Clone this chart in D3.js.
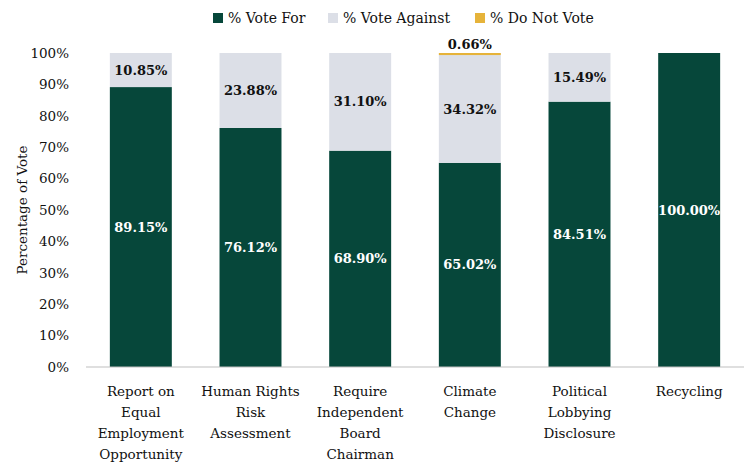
<!DOCTYPE html>
<html>
<head>
<meta charset="utf-8">
<script src="https://cdn.jsdelivr.net/npm/d3@7"></script>
<style>
  body { margin: 0; background: #fff; }
</style>
</head>
<body>
<div id="chart"></div>
<script>
// data
var categories = [
  ["Report on", "Equal", "Employment", "Opportunity"],
  ["Human Rights", "Risk", "Assessment"],
  ["Require", "Independent", "Board", "Chairman"],
  ["Climate", "Change"],
  ["Political", "Lobbying", "Disclosure"],
  ["Recycling"]
];
var voteFor = [89.15, 76.12, 68.90, 65.02, 84.51, 100.00];
var voteAgainst = [10.85, 23.88, 31.10, 34.32, 15.49, 0];
var doNotVote = [0, 0, 0, 0.66, 0, 0];
var seriesNames = ["% Vote For", "% Vote Against", "% Do Not Vote"];
var yTicks = [0, 10, 20, 30, 40, 50, 60, 70, 80, 90, 100];

var colors = ["#06473a", "#dcdfe7", "#e6b33a"];
var font = "'DejaVu Serif', serif";
var fontSize = "13.5px";
var labelSize = "13px";

var svgWidth = 746, svgHeight = 463;
var margin = { top: 53, right: 2, bottom: 96, left: 86 };
var width = svgWidth - margin.left - margin.right;
var height = svgHeight - margin.top - margin.bottom;

var svg = d3.select("#chart").append("svg")
  .attr("width", svgWidth)
  .attr("height", svgHeight)
  .attr("font-family", font)
  .attr("font-size", fontSize);

var chartGroup = svg.append("g")
  .attr("transform", "translate(" + margin.left + "," + margin.top + ")");

var xScale = d3.scaleBand()
  .domain(d3.range(categories.length))
  .range([0, width])
  .paddingInner(0.435)
  .paddingOuter(0.2175);

var yScale = d3.scaleLinear().domain([0, 100]).range([height, 0]);

// stack
var rows = voteFor.map(function(v, i) {
  return { i: i, f: v, a: voteAgainst[i], d: doNotVote[i] };
});
var stacked = d3.stack().keys(["f", "a", "d"])(rows);

stacked.forEach(function(layer, k) {
  chartGroup.append("g").selectAll("rect")
    .data(layer)
    .enter()
    .append("rect")
    .attr("x", function(d) { return xScale(d.data.i); })
    .attr("width", xScale.bandwidth())
    .attr("y", function(d) { return yScale(d[1]); })
    .attr("height", function(d) { return yScale(d[0]) - yScale(d[1]); })
    .attr("fill", colors[k]);
});

// y axis (labels only)
var yAxis = chartGroup.append("g")
  .call(d3.axisLeft(yScale).tickValues(yTicks).tickFormat(function(d) { return d + "%"; }).tickSize(0).tickPadding(17));
yAxis.select(".domain").remove();
yAxis.selectAll("text")
  .attr("font-family", font)
  .attr("font-size", fontSize)
  .attr("fill", "#111");

// baseline
chartGroup.append("line")
  .attr("x1", 0).attr("x2", width)
  .attr("y1", height).attr("y2", height)
  .attr("stroke", "#bfbfbf").attr("stroke-width", 1);

// x labels
var xLab = chartGroup.append("g").selectAll("text")
  .data(categories)
  .enter()
  .append("text")
  .attr("text-anchor", "middle")
  .attr("fill", "#111")
  .attr("transform", function(d, i) {
    return "translate(" + (xScale(i) + xScale.bandwidth() / 2) + "," + (height + 29) + ")";
  });
xLab.selectAll("tspan")
  .data(function(d) { return d; })
  .enter()
  .append("tspan")
  .attr("x", 0)
  .attr("y", function(d, j) { return j * 21; })
  .text(function(d) { return d; });

// value labels
function fmt(v) { return v.toFixed(2) + "%"; }

chartGroup.append("g").selectAll("text")
  .data(rows)
  .enter()
  .append("text")
  .attr("text-anchor", "middle")
  .attr("dy", "0.35em")
  .attr("font-weight", "bold")
  .attr("font-size", labelSize)
  .attr("fill", "#fff")
  .attr("x", function(d) { return xScale(d.i) + xScale.bandwidth() / 2; })
  .attr("y", function(d) { return yScale(d.f / 2); })
  .text(function(d) { return fmt(d.f); });

chartGroup.append("g").selectAll("text")
  .data(rows.filter(function(d) { return d.a > 0; }))
  .enter()
  .append("text")
  .attr("text-anchor", "middle")
  .attr("dy", "0.35em")
  .attr("font-weight", "bold")
  .attr("font-size", labelSize)
  .attr("fill", "#111")
  .attr("x", function(d) { return xScale(d.i) + xScale.bandwidth() / 2; })
  .attr("y", function(d) { return yScale(d.f + d.a / 2); })
  .text(function(d) { return fmt(d.a); });

chartGroup.append("g").selectAll("text")
  .data(rows.filter(function(d) { return d.d > 0; }))
  .enter()
  .append("text")
  .attr("text-anchor", "middle")
  .attr("font-weight", "bold")
  .attr("font-size", labelSize)
  .attr("fill", "#111")
  .attr("x", function(d) { return xScale(d.i) + xScale.bandwidth() / 2; })
  .attr("y", function(d) { return yScale(d.f + d.a + d.d) - 4; })
  .text(function(d) { return fmt(d.d); });

// y axis title
svg.append("text")
  .attr("text-anchor", "middle")
  .attr("fill", "#111")
  .attr("transform", "translate(27," + (margin.top + height / 2) + ") rotate(-90)")
  .text("Percentage of Vote");

// legend
var legendX = [213, 328, 475];
var legend = svg.append("g").selectAll("g")
  .data(seriesNames)
  .enter()
  .append("g")
  .attr("transform", function(d, i) { return "translate(" + legendX[i] + ",13)"; });
legend.append("rect")
  .attr("width", 10).attr("height", 10)
  .attr("fill", function(d, i) { return colors[i]; });
legend.append("text")
  .attr("x", 15).attr("y", 10)
  .attr("font-size", "14px")
  .attr("fill", "#111")
  .text(function(d) { return d; });
</script>
</body>
</html>
